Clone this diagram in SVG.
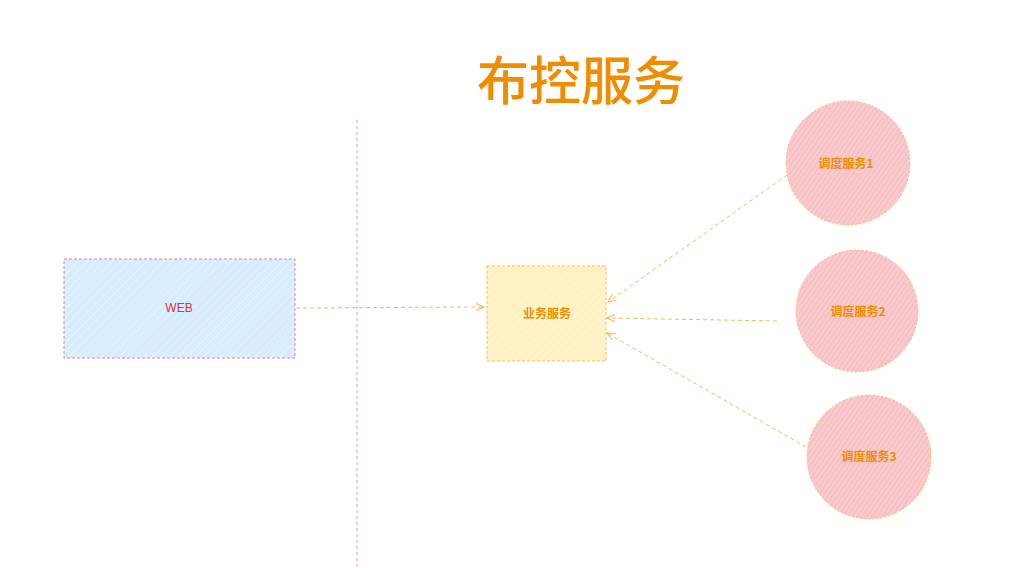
<svg xmlns="http://www.w3.org/2000/svg" width="1032" height="568" viewBox="0 0 1032 568">
<style>
.lbl{font-family:"Noto Sans CJK SC","Liberation Sans",sans-serif;font-size:12px;font-weight:bold;fill:#f08c00;text-anchor:middle;dominant-baseline:central}
.conn{fill:none;stroke:#f5b85a;stroke-width:1;stroke-dasharray:4 3}
</style>
<defs>
<pattern id="hBlue" width="6" height="6" patternUnits="userSpaceOnUse" patternTransform="rotate(45)">
<rect width="6" height="6" fill="#d6ecff"/>
<line x1="0" y1="0" x2="0" y2="6" stroke="#eef7ff" stroke-width="1.5"/>
</pattern>
<pattern id="hYellow" width="6" height="6" patternUnits="userSpaceOnUse" patternTransform="rotate(45)">
<rect width="6" height="6" fill="#fff1c2"/>
<line x1="0" y1="0" x2="0" y2="6" stroke="#fff8e0" stroke-width="1.5"/>
</pattern>
<pattern id="hPink" width="4" height="4" patternUnits="userSpaceOnUse" patternTransform="rotate(35)">
<rect width="4" height="4" fill="#f7c2c6"/>
<line x1="0" y1="0" x2="0" y2="4" stroke="#fbe0e2" stroke-width="1"/>
</pattern>
<marker id="arr" viewBox="0 0 10 10" refX="9" refY="5" markerWidth="9" markerHeight="9" orient="auto" markerUnits="userSpaceOnUse">
<path d="M0,1 L9,5 L0,9" fill="none" stroke="#f5b85a" stroke-width="1.2"/>
</marker>
</defs>
<rect width="1032" height="568" fill="#ffffff"/>
<text x="581" y="77" font-family="Noto Sans CJK SC,sans-serif" font-size="52" font-weight="500" fill="#f08c00" text-anchor="middle" dominant-baseline="central">布控服务</text>
<line x1="357" y1="120" x2="357" y2="568" stroke="#ee9aa5" stroke-width="1" stroke-dasharray="3 3"/>
<g id="connectors">
<line class="conn" x1="296" y1="308" x2="484" y2="307" marker-end="url(#arr)"/>
<line class="conn" x1="787" y1="175" x2="608" y2="302" marker-end="url(#arr)"/>
<line class="conn" x1="777" y1="321" x2="607" y2="318" marker-end="url(#arr)"/>
<line class="conn" x1="806" y1="447" x2="607" y2="333" marker-end="url(#arr)"/>
</g>
<g id="web">
<rect x="64" y="259" width="231" height="99" fill="url(#hBlue)" stroke="#e8848f" stroke-width="1" stroke-dasharray="3 2"/>
<text x="179" y="308" font-family="Liberation Sans,sans-serif" font-size="12" fill="#e03131" text-anchor="middle" dominant-baseline="central">WEB</text>
</g>
<g id="biz">
<rect x="487" y="266" width="119" height="95" fill="url(#hYellow)" stroke="#f5c060" stroke-width="1" stroke-dasharray="3 2"/>
<text class="lbl" x="547" y="312">业务服务</text>
</g>
<g id="sched1">
<circle cx="848" cy="163" r="62" fill="url(#hPink)" stroke="#f5c060" stroke-width="1" stroke-dasharray="2 2"/>
<text class="lbl" x="846" y="162">调度服务1</text>
</g>
<g id="sched2">
<circle cx="857" cy="311" r="61" fill="url(#hPink)" stroke="#f5c060" stroke-width="1" stroke-dasharray="2 2"/>
<text class="lbl" x="858" y="310">调度服务2</text>
</g>
<g id="sched3">
<circle cx="869" cy="457" r="62" fill="url(#hPink)" stroke="#f5c060" stroke-width="1" stroke-dasharray="2 2"/>
<text class="lbl" x="869" y="455">调度服务3</text>
</g>
</svg>
